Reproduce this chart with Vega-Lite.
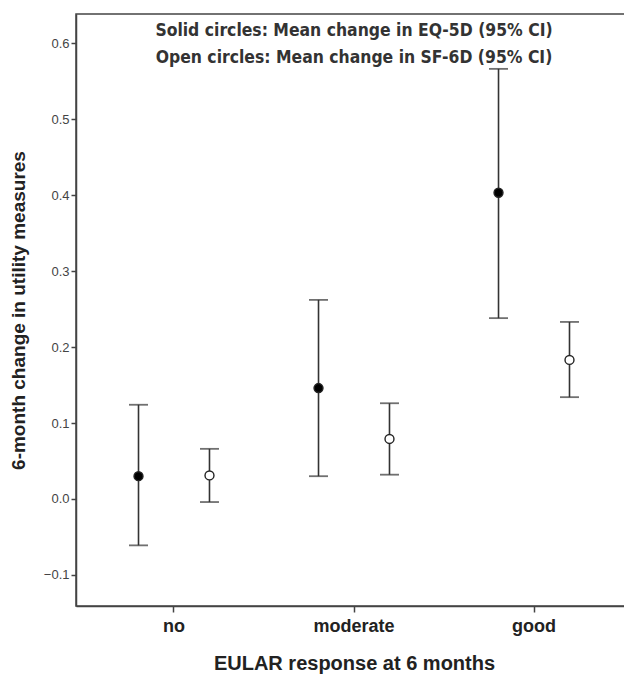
{
  "$schema": "https://vega.github.io/schema/vega-lite/v6.json",
  "width": 556,
  "height": 592,
  "autosize": "none",
  "padding": {"left": 76, "top": 14, "right": 0, "bottom": 69},
  "background": "white",
  "config": {
    "font": "Liberation Sans",
    "view": {"stroke": "#444", "strokeWidth": 1.5},
    "axisY": {"grid": false, "tickSize": 5, "tickColor": "#444", "tickWidth": 1.5, "domainColor": "#444", "domainWidth": 1.5, "labelFontSize": 13, "labelColor": "#444", "labelPadding": 2, "titleFontSize": 19, "titleFontWeight": "bold", "titleColor": "#222", "titleX": -58, "titleY": 296, "titleAngle": 270, "titleAlign": "center", "titleBaseline": "middle"},
    "axisX": {"grid": false, "tickSize": 6, "tickColor": "#444", "tickWidth": 1.5, "domainColor": "#444", "domainWidth": 1.5, "labelFontSize": 18, "labelFontWeight": "bold", "labelColor": "#222", "labelPadding": 5, "labelAngle": 0, "titleFontSize": 20, "titleFontWeight": "bold", "titleColor": "#222", "titleX": 278, "titleY": 57, "titleBaseline": "middle"}
  },
  "datasets": {
    "bars": [
      {"resp": "no", "measure": "EQ-5D", "mean": 0.030, "lo": -0.061, "hi": 0.124},
      {"resp": "no", "measure": "SF-6D", "mean": 0.031, "lo": -0.004, "hi": 0.066},
      {"resp": "moderate", "measure": "EQ-5D", "mean": 0.146, "lo": 0.030, "hi": 0.262},
      {"resp": "moderate", "measure": "SF-6D", "mean": 0.079, "lo": 0.032, "hi": 0.126},
      {"resp": "good", "measure": "EQ-5D", "mean": 0.403, "lo": 0.238, "hi": 0.566},
      {"resp": "good", "measure": "SF-6D", "mean": 0.183, "lo": 0.134, "hi": 0.233}
    ],
    "notes": [
      {"resp": "moderate", "v": 0.616, "label": "Solid circles: Mean change in EQ-5D (95% CI)"},
      {"resp": "moderate", "v": 0.580, "label": "Open circles: Mean change in SF-6D (95% CI)"}
    ]
  },
  "encoding": {
    "x": {"field": "resp", "type": "nominal", "sort": ["no", "moderate", "good"], "scale": {"type": "band", "paddingInner": 0, "paddingOuter": 0.0444}, "title": "EULAR response at 6 months"}
  },
  "layer": [
    {
      "data": {"name": "bars"},
      "mark": {"type": "rule", "color": "#333", "strokeWidth": 1.6},
      "encoding": {
        "xOffset": {"field": "measure", "type": "nominal", "scale": {"type": "band", "domain": ["EQ-5D", "SF-6D"], "paddingInner": 0, "paddingOuter": 0.268}},
        "y": {"field": "lo", "type": "quantitative", "scale": {"domain": [-0.1408, 0.6382], "nice": false, "zero": false}, "axis": {"values": [-0.1, 0, 0.1, 0.2, 0.3, 0.4, 0.5, 0.6], "format": ".1f"}, "title": "6-month change in utility measures"},
        "y2": {"field": "hi"}
      }
    },
    {
      "data": {"name": "bars"},
      "mark": {"type": "tick", "color": "#333", "thickness": 1.8, "size": 19, "orient": "horizontal"},
      "encoding": {
        "xOffset": {"field": "measure", "type": "nominal", "scale": {"type": "band", "domain": ["EQ-5D", "SF-6D"], "paddingInner": 0, "paddingOuter": 0.268}},
        "y": {"field": "lo", "type": "quantitative", "scale": {"domain": [-0.1408, 0.6382], "nice": false, "zero": false}, "axis": {"values": [-0.1, 0, 0.1, 0.2, 0.3, 0.4, 0.5, 0.6], "format": ".1f"}, "title": "6-month change in utility measures"}
      }
    },
    {
      "data": {"name": "bars"},
      "mark": {"type": "tick", "color": "#333", "thickness": 1.8, "size": 19, "orient": "horizontal"},
      "encoding": {
        "xOffset": {"field": "measure", "type": "nominal", "scale": {"type": "band", "domain": ["EQ-5D", "SF-6D"], "paddingInner": 0, "paddingOuter": 0.268}},
        "y": {"field": "hi", "type": "quantitative", "scale": {"domain": [-0.1408, 0.6382], "nice": false, "zero": false}, "axis": {"values": [-0.1, 0, 0.1, 0.2, 0.3, 0.4, 0.5, 0.6], "format": ".1f"}, "title": "6-month change in utility measures"}
      }
    },
    {
      "data": {"name": "bars"},
      "mark": {"type": "point", "shape": "circle", "filled": true, "stroke": "#222", "strokeWidth": 1.4, "size": 80, "opacity": 1},
      "encoding": {
        "xOffset": {"field": "measure", "type": "nominal", "scale": {"type": "band", "domain": ["EQ-5D", "SF-6D"], "paddingInner": 0, "paddingOuter": 0.268}},
        "y": {"field": "mean", "type": "quantitative", "scale": {"domain": [-0.1408, 0.6382], "nice": false, "zero": false}, "axis": {"values": [-0.1, 0, 0.1, 0.2, 0.3, 0.4, 0.5, 0.6], "format": ".1f"}, "title": "6-month change in utility measures"},
        "fill": {"field": "measure", "type": "nominal", "scale": {"domain": ["EQ-5D", "SF-6D"], "range": ["#000000", "#ffffff"]}, "legend": null}
      }
    },
    {
      "data": {"name": "notes"},
      "mark": {"type": "text", "font": "DejaVu Sans Condensed", "fontWeight": "bold", "fontSize": 17.4, "color": "#333", "align": "center", "baseline": "middle"},
      "encoding": {
        "y": {"field": "v", "type": "quantitative", "scale": {"domain": [-0.1408, 0.6382], "nice": false, "zero": false}, "axis": {"values": [-0.1, 0, 0.1, 0.2, 0.3, 0.4, 0.5, 0.6], "format": ".1f"}, "title": "6-month change in utility measures"},
        "text": {"field": "label"}
      }
    }
  ]
}
